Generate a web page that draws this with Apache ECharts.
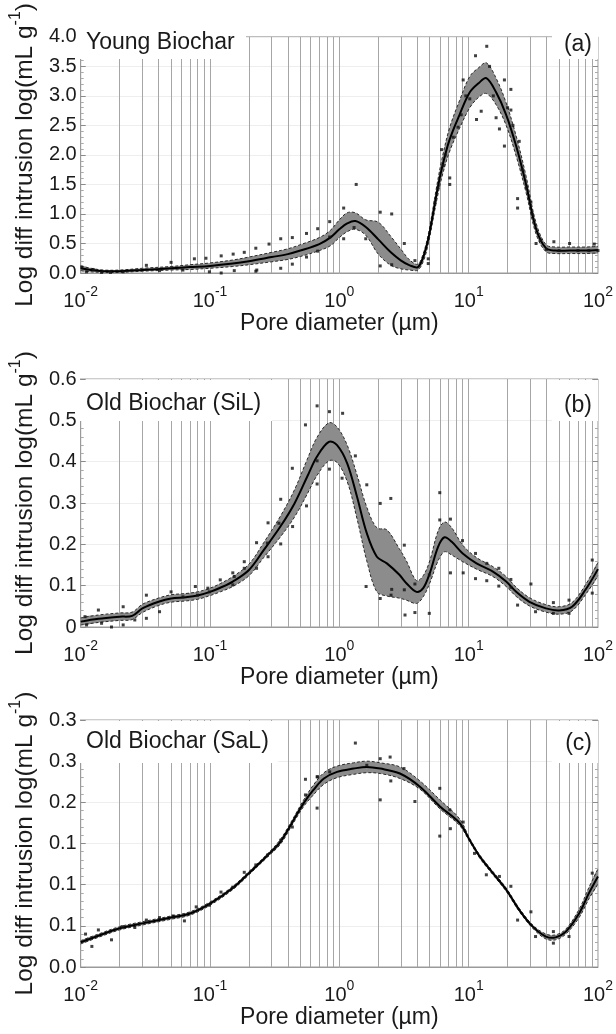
<!DOCTYPE html>
<html>
<head>
<meta charset="utf-8">
<script src="https://cdn.jsdelivr.net/npm/echarts@6.0.0/dist/echarts.min.js"></script>
<style>
html, body { margin: 0; padding: 0; background: #fff; }
#chart { width: 616px; height: 1034px; }
</style>
</head>
<body>
<div id="chart"></div>
<script>
// 刻度标签
const xExponents = ['-2', '-1', '0', '1', '2'];
const yLabelsA = ['0.0', '0.5', '1.0', '1.5', '2.0', '2.5', '3.0', '3.5', '4.0'];
const yLabelsB = ['0', '0.1', '0.2', '0.3', '0.4', '0.5', '0.6'];
const yLabelsC = ['0.0', '0.1', '0.1', '0.1', '0.2', '0.3', '0.3'];

// (a) Young Biochar
const diamA = [0.01, 0.012, 0.015, 0.02, 0.03, 0.05, 0.07, 0.1, 0.15, 0.2, 0.3, 0.4, 0.5, 0.7, 0.85, 1.0, 1.15, 1.33, 1.6, 2.0, 2.5, 3.0, 3.5, 4.05, 4.5, 4.9, 5.3, 5.65, 6.2, 7.1, 8.5, 10.2, 12, 13.7, 16.3, 19.5, 23.3, 27.8, 33.2, 39.6, 47, 60, 80, 100];
const meanA = [0.08, 0.05, 0.03, 0.03, 0.05, 0.08, 0.10, 0.12, 0.16, 0.20, 0.27, 0.32, 0.38, 0.49, 0.60, 0.74, 0.84, 0.88, 0.78, 0.57, 0.35, 0.21, 0.13, 0.10, 0.30, 0.60, 1.00, 1.34, 1.77, 2.25, 2.68, 3.06, 3.22, 3.30, 3.06, 2.68, 2.15, 1.50, 0.75, 0.42, 0.38, 0.38, 0.38, 0.39];
const loA = [0.04, 0.02, 0.01, 0.01, 0.03, 0.05, 0.06, 0.08, 0.11, 0.14, 0.19, 0.23, 0.28, 0.38, 0.46, 0.60, 0.70, 0.74, 0.64, 0.32, 0.13, 0.07, 0.05, 0.05, 0.22, 0.52, 0.90, 1.22, 1.62, 2.05, 2.45, 2.80, 2.98, 3.04, 2.85, 2.50, 1.98, 1.36, 0.66, 0.36, 0.33, 0.33, 0.33, 0.34];
const hiA = [0.12, 0.08, 0.05, 0.05, 0.08, 0.11, 0.14, 0.17, 0.22, 0.27, 0.35, 0.41, 0.48, 0.60, 0.72, 0.90, 1.02, 1.02, 0.90, 0.86, 0.62, 0.40, 0.22, 0.15, 0.36, 0.68, 1.10, 1.46, 1.92, 2.45, 2.92, 3.33, 3.48, 3.56, 3.30, 2.88, 2.32, 1.64, 0.85, 0.48, 0.44, 0.44, 0.44, 0.45];
const dotsA = [
    [0.0102, 0.10], [0.0111, 0.02], [0.0125, 0.06], [0.0145, 0.01], [0.017, 0.01], [0.0213, 0.02], [0.0322, 0.13], [0.0407, 0.04],
    [0.05, 0.18], [0.0617, 0.05], [0.0757, 0.24], [0.0989, 0.02], [0.093, 0.25], [0.122, 0.29], [0.122, 0.0], [0.151, 0.32],
    [0.154, 0.04], [0.184, 0.35], [0.23, 0.05], [0.226, 0.42], [0.226, 0.03], [0.286, 0.49], [0.352, 0.58], [0.352, 0.08],
    [0.433, 0.60], [0.433, 0.15], [0.557, 0.67], [0.557, 0.27], [0.68, 0.75], [0.68, 0.37], [0.842, 0.87], [0.842, 0.61],
    [1.08, 1.10], [1.08, 0.58], [1.30, 0.77], [1.35, 1.50], [1.60, 0.58], [2.07, 1.03], [2.07, 0.12], [2.54, 1.00],
    [2.54, 0.14], [3.18, 0.50], [3.84, 0.21], [4.87, 0.24], [4.87, 0.16], [5.5, 1.2], [5.8, 1.45], [6.17, 2.09],
    [6.35, 1.82], [6.6, 2.0], [7.14, 1.61], [7.14, 1.50], [7.6, 2.3], [8.27, 2.47], [8.77, 2.68], [9.07, 3.27],
    [9.5, 3.0], [10.2, 2.95], [11.3, 3.68], [11.5, 2.60], [12.5, 2.74], [13.8, 3.84], [14.5, 3.5], [15.5, 3.0],
    [16.3, 2.63], [17.3, 2.44], [18.9, 3.27], [18.9, 2.15], [20, 2.8], [21.2, 3.11], [21.2, 2.76], [22, 2.5],
    [23.9, 1.26], [23.9, 1.10], [24.6, 2.23], [26, 1.75], [28, 1.45], [30.3, 1.20], [31, 1.0], [33.2, 0.50],
    [36, 0.55], [40, 0.40], [45.6, 0.53], [50, 0.38], [60.3, 0.50], [70, 0.38], [85, 0.38], [93.6, 0.49], [100, 0.38]
];

// (b) Old Biochar (SiL)
const diamB = [0.01, 0.0137, 0.02, 0.025, 0.03, 0.04, 0.05, 0.065, 0.08, 0.1, 0.12, 0.15, 0.2, 0.26, 0.35, 0.45, 0.565, 0.67, 0.83, 0.96, 1.15, 1.37, 1.63, 1.95, 2.33, 2.9, 3.3, 3.95, 4.45, 5.0, 5.8, 6.5, 7.4, 9.0, 11.5, 15.4, 19.5, 23.3, 29.5, 39.6, 50, 63, 80, 100];
const meanB = [0.013, 0.020, 0.025, 0.027, 0.045, 0.061, 0.069, 0.072, 0.076, 0.085, 0.095, 0.110, 0.138, 0.186, 0.243, 0.299, 0.364, 0.412, 0.448, 0.440, 0.396, 0.315, 0.227, 0.170, 0.154, 0.127, 0.106, 0.085, 0.094, 0.130, 0.194, 0.217, 0.206, 0.178, 0.154, 0.134, 0.110, 0.085, 0.061, 0.045, 0.040, 0.049, 0.090, 0.140];
const loB = [0.005, 0.011, 0.016, 0.018, 0.035, 0.052, 0.060, 0.063, 0.067, 0.076, 0.085, 0.098, 0.124, 0.168, 0.218, 0.266, 0.322, 0.366, 0.402, 0.398, 0.352, 0.262, 0.160, 0.085, 0.075, 0.070, 0.065, 0.057, 0.073, 0.106, 0.160, 0.182, 0.174, 0.158, 0.140, 0.122, 0.098, 0.074, 0.051, 0.036, 0.031, 0.039, 0.078, 0.124];
const hiB = [0.022, 0.029, 0.034, 0.036, 0.055, 0.070, 0.078, 0.081, 0.085, 0.094, 0.105, 0.122, 0.152, 0.204, 0.268, 0.332, 0.406, 0.458, 0.494, 0.484, 0.440, 0.368, 0.290, 0.240, 0.235, 0.190, 0.160, 0.112, 0.124, 0.160, 0.232, 0.254, 0.240, 0.198, 0.168, 0.146, 0.122, 0.096, 0.071, 0.054, 0.049, 0.059, 0.102, 0.156];
const dotsB = [
    [0.0108, 0.025], [0.0111, 0.005], [0.0137, 0.041], [0.0145, 0.009], [0.0173, 0.0], [0.0213, 0.049], [0.0213, 0.005], [0.0262, 0.017],
    [0.0322, 0.077], [0.0322, 0.021], [0.0407, 0.037], [0.05, 0.085], [0.0617, 0.073], [0.077, 0.098], [0.080, 0.077], [0.0962, 0.094],
    [0.0989, 0.085], [0.12, 0.114], [0.150, 0.131], [0.150, 0.102], [0.154, 0.122], [0.184, 0.158], [0.184, 0.142], [0.229, 0.204],
    [0.229, 0.142], [0.278, 0.203], [0.281, 0.252], [0.281, 0.170], [0.341, 0.251], [0.352, 0.309], [0.352, 0.201], [0.433, 0.384],
    [0.435, 0.243], [0.547, 0.489], [0.557, 0.293], [0.673, 0.535], [0.673, 0.402], [0.673, 0.346], [0.838, 0.521], [0.838, 0.382],
    [1.06, 0.517], [1.05, 0.360], [1.33, 0.414], [1.63, 0.344], [1.61, 0.098], [2.07, 0.299], [2.07, 0.069], [2.50, 0.311],
    [2.54, 0.091], [2.51, 0.077], [3.18, 0.198], [3.18, 0.090], [3.22, 0.029], [3.84, 0.104], [3.84, 0.035], [4.96, 0.126],
    [4.96, 0.033], [5.98, 0.325], [5.98, 0.259], [7.23, 0.261], [7.23, 0.131], [8.96, 0.209], [9.07, 0.131], [11.3, 0.178],
    [11.3, 0.117], [13.8, 0.154], [13.8, 0.112], [17.1, 0.142], [17.1, 0.099], [21.2, 0.115], [21.2, 0.096], [23.9, 0.053],
    [30.3, 0.104], [32.9, 0.037], [45.2, 0.059], [45.2, 0.033], [59.7, 0.065], [59.7, 0.033], [90.3, 0.162], [90.3, 0.082]
];

// (c) Old Biochar (SaL)
const diamC = [0.01, 0.0137, 0.02, 0.03, 0.05, 0.07, 0.1, 0.15, 0.2, 0.28, 0.35, 0.43, 0.53, 0.63, 0.76, 0.96, 1.29, 1.63, 2.07, 2.94, 4.2, 6.0, 8.5, 10.2, 12.2, 15.4, 19.5, 24.7, 31.3, 39.6, 47, 56.4, 71.4, 85.3, 100];
const meanC = [0.030, 0.038, 0.047, 0.053, 0.060, 0.065, 0.077, 0.096, 0.114, 0.136, 0.152, 0.175, 0.199, 0.215, 0.229, 0.237, 0.241, 0.243, 0.241, 0.235, 0.219, 0.195, 0.175, 0.154, 0.134, 0.114, 0.094, 0.069, 0.049, 0.037, 0.036, 0.043, 0.065, 0.090, 0.110];
const loC = [0.028, 0.036, 0.045, 0.051, 0.058, 0.063, 0.075, 0.094, 0.112, 0.134, 0.149, 0.172, 0.195, 0.209, 0.222, 0.230, 0.234, 0.236, 0.235, 0.229, 0.216, 0.192, 0.172, 0.152, 0.132, 0.112, 0.092, 0.067, 0.047, 0.034, 0.033, 0.040, 0.060, 0.083, 0.101];
const hiC = [0.032, 0.040, 0.049, 0.055, 0.062, 0.067, 0.079, 0.098, 0.116, 0.138, 0.155, 0.178, 0.203, 0.221, 0.236, 0.244, 0.248, 0.250, 0.248, 0.243, 0.226, 0.203, 0.180, 0.156, 0.136, 0.116, 0.096, 0.071, 0.051, 0.040, 0.039, 0.046, 0.070, 0.097, 0.119];
const dotsC = [
    [0.0109, 0.040], [0.0122, 0.025], [0.0137, 0.045], [0.0173, 0.033], [0.0209, 0.049], [0.0262, 0.048], [0.0322, 0.057], [0.0407, 0.060],
    [0.0517, 0.062], [0.0634, 0.056], [0.0782, 0.073], [0.0989, 0.075], [0.1216, 0.091], [0.150, 0.097], [0.184, 0.115], [0.226, 0.124],
    [0.278, 0.136], [0.352, 0.154], [0.433, 0.170], [0.547, 0.228], [0.547, 0.209], [0.673, 0.231], [0.673, 0.193], [0.68, 0.231],
    [0.842, 0.237], [1.33, 0.272], [1.63, 0.245], [2.07, 0.253], [2.07, 0.203], [2.47, 0.255], [2.50, 0.226], [3.16, 0.241],
    [3.84, 0.201], [5.98, 0.217], [5.98, 0.159], [7.14, 0.191], [7.22, 0.168], [9.07, 0.176], [11.1, 0.138], [13.7, 0.112],
    [17.3, 0.110], [21.2, 0.098], [23.9, 0.057], [30.3, 0.067], [32.9, 0.037], [45.2, 0.043], [45.2, 0.029], [59.7, 0.037], [90.3, 0.114]
];

const FONT = '"Liberation Sans", Arial, sans-serif';
const TEXT = '#1a1a1a';
const SMOOTH = 0.35;

// 竖直网格线：每个十进位的 1..9 倍
const vLines = [];
for (let e = -2; e < 2; e++) {
    for (let k = 1; k < 10; k++) {
        if (e === -2 && k === 1) continue;
        vLines.push(k * Math.pow(10, e));
    }
}

const panels = [
    { top: 25, height: 248, diam: diamA, mean: meanA, lo: loA, hi: hiA, dots: dotsA, max: 4, interval: 0.5, labels: yLabelsA,
      title: 'Young Biochar', tag: '(a)', boxH: 33, boxW: 166, textY: 43 },
    { top: 379, height: 248, diam: diamB, mean: meanB, lo: loB, hi: hiB, dots: dotsB, max: 0.6, interval: 0.1, labels: yLabelsB,
      title: 'Old Biochar (SiL)', tag: '(b)', boxH: 41, boxW: 192, textY: 404 },
    { top: 720, height: 247, diam: diamC, mean: meanC, lo: loC, hi: hiC, dots: dotsC, max: 0.3, interval: 0.05, labels: yLabelsC,
      title: 'Old Biochar (SaL)', tag: '(c)', boxH: 42, boxW: 198, textY: 742 }
];

// 置信带 + 虚线边界 + 均值线，统一用同样的平滑方式绘制
function bandRenderer(p) {
    return function (params, api) {
        if (params.dataIndex !== 0) return null;
        const upper = p.diam.map(function (d, j) { return api.coord([d, p.hi[j]]); });
        const lower = p.diam.map(function (d, j) { return api.coord([d, p.lo[j]]); });
        const mid = p.diam.map(function (d, j) { return api.coord([d, p.mean[j]]); });
        const cs = params.coordSys;
        const box = [[cs.x, cs.y], [cs.x + cs.width, cs.y + cs.height]];
        const edge = function (pts) {
            return {
                type: 'polyline',
                shape: { points: pts, smooth: SMOOTH, smoothConstraint: box },
                style: { stroke: '#2a2a2a', lineWidth: 1, lineDash: [3, 2], fill: null }
            };
        };
        return {
            type: 'group',
            children: [
                {
                    type: 'polygon',
                    shape: { points: upper.concat(lower.slice().reverse()), smooth: SMOOTH, smoothConstraint: box },
                    style: { fill: '#8c8c8c' }
                },
                edge(upper),
                edge(lower),
                {
                    type: 'polyline',
                    shape: { points: mid, smooth: SMOOTH, smoothConstraint: box },
                    style: { stroke: '#000', lineWidth: 2, fill: null }
                }
            ]
        };
    };
}

const grids = [], xAxes = [], yAxes = [], series = [], graphics = [];

panels.forEach(function (p, i) {
    grids.push({ left: 79, width: 520, top: p.top, height: p.height, show: true, borderColor: '#9a9a9a', borderWidth: 1, backgroundColor: '#fff' });

    xAxes.push({
        type: 'log', gridIndex: i, min: 0.01, max: 100, logBase: 10,
        axisLine: { show: true, lineStyle: { color: '#9a9a9a' } },
        axisTick: { show: false },
        splitLine: { show: false },
        axisLabel: {
            margin: 12,
            formatter: function (value, idx) {
                return '{b|10}{s|' + xExponents[idx] + '}';
            },
            rich: {
                b: { fontSize: 20, fontFamily: FONT, color: TEXT, lineHeight: 26, verticalAlign: 'bottom' },
                s: { fontSize: 14, fontFamily: FONT, color: TEXT, lineHeight: 18, verticalAlign: 'top' }
            }
        },
        name: 'Pore diameter (µm)',
        nameLocation: 'middle',
        nameGap: 37,
        nameTextStyle: { fontSize: 23, fontFamily: FONT, color: TEXT }
    });

    yAxes.push({
        type: 'value', gridIndex: i, min: 0, max: p.max, interval: p.interval, position: 'left',
        axisLine: { show: true, lineStyle: { color: '#9a9a9a' } },
        axisTick: { show: true, inside: true, length: 5, lineStyle: { color: '#8a8a8a' } },
        minorTick: { show: true, splitNumber: 5, length: 3, lineStyle: { color: '#aaa' } },
        splitLine: { show: true, lineStyle: { color: '#eeeeee' } },
        axisLabel: {
            margin: 4, fontSize: 20, fontFamily: FONT, color: TEXT,
            formatter: function (value) {
                return p.labels[Math.round(value / p.interval)];
            }
        },
        name: '{m|Log diff intrusion log(mL g}{s|-1}{m|)}',
        nameLocation: 'middle',
        nameGap: 29,
        nameTextStyle: {
            rich: {
                m: { fontSize: 24.5, fontFamily: FONT, color: TEXT, lineHeight: 30, verticalAlign: 'bottom' },
                s: { fontSize: 16, fontFamily: FONT, color: TEXT, lineHeight: 20, verticalAlign: 'top' }
            }
        }
    });
    yAxes.push({
        type: 'value', gridIndex: i, min: 0, max: p.max, interval: p.interval, position: 'right',
        axisLine: { show: false },
        axisTick: { show: true, inside: true, length: 5, lineStyle: { color: '#8a8a8a' } },
        minorTick: { show: true, splitNumber: 5, length: 3, lineStyle: { color: '#aaa' } },
        splitLine: { show: false },
        axisLabel: { show: false }
    });

    const yIdx = i * 2;

    // 网格竖线
    series.push({
        type: 'line', xAxisIndex: i, yAxisIndex: yIdx, data: [], silent: true,
        markLine: {
            silent: true, symbol: 'none', z: 1, animation: false,
            label: { show: false },
            lineStyle: { color: '#a6a6a6', width: 1, type: 'solid' },
            data: vLines.map(function (v) { return { xAxis: v }; })
        }
    });

    // 置信带与曲线
    series.push({
        type: 'custom', xAxisIndex: i, yAxisIndex: yIdx, silent: true, z: 3,
        renderItem: bandRenderer(p),
        encode: { x: 0, y: [1, 2, 3] },
        data: p.diam.map(function (d, j) { return [d, p.lo[j], p.hi[j], p.mean[j]]; })
    });

    // 实测点
    series.push({
        type: 'scatter', xAxisIndex: i, yAxisIndex: yIdx, symbol: 'rect', symbolSize: 3, silent: true, z: 5,
        itemStyle: { color: '#111' },
        data: p.dots
    });

    // 标签白底
    graphics.push({ type: 'rect', z: 100, shape: { x: 80, y: p.top + 1, width: p.boxW, height: p.boxH }, style: { fill: '#fff' } });
    graphics.push({ type: 'rect', z: 100, shape: { x: 552, y: p.top + 1, width: 46, height: p.boxH }, style: { fill: '#fff' } });
    graphics.push({ type: 'text', z: 101, x: 86, y: p.textY, style: { text: p.title, font: '23px ' + FONT, fill: TEXT, textVerticalAlign: 'middle' } });
    graphics.push({ type: 'text', z: 101, x: 592, y: p.textY + 2, style: { text: p.tag, font: '23px ' + FONT, fill: TEXT, textAlign: 'right', textVerticalAlign: 'middle' } });
});

const chart = echarts.init(document.getElementById('chart'));
chart.setOption({
    animation: false,
    backgroundColor: '#fff',
    grid: grids,
    xAxis: xAxes,
    yAxis: yAxes,
    series: series,
    graphic: graphics
});

window.addEventListener('resize', () => {
    chart.resize();
});
</script>
</body>
</html>
